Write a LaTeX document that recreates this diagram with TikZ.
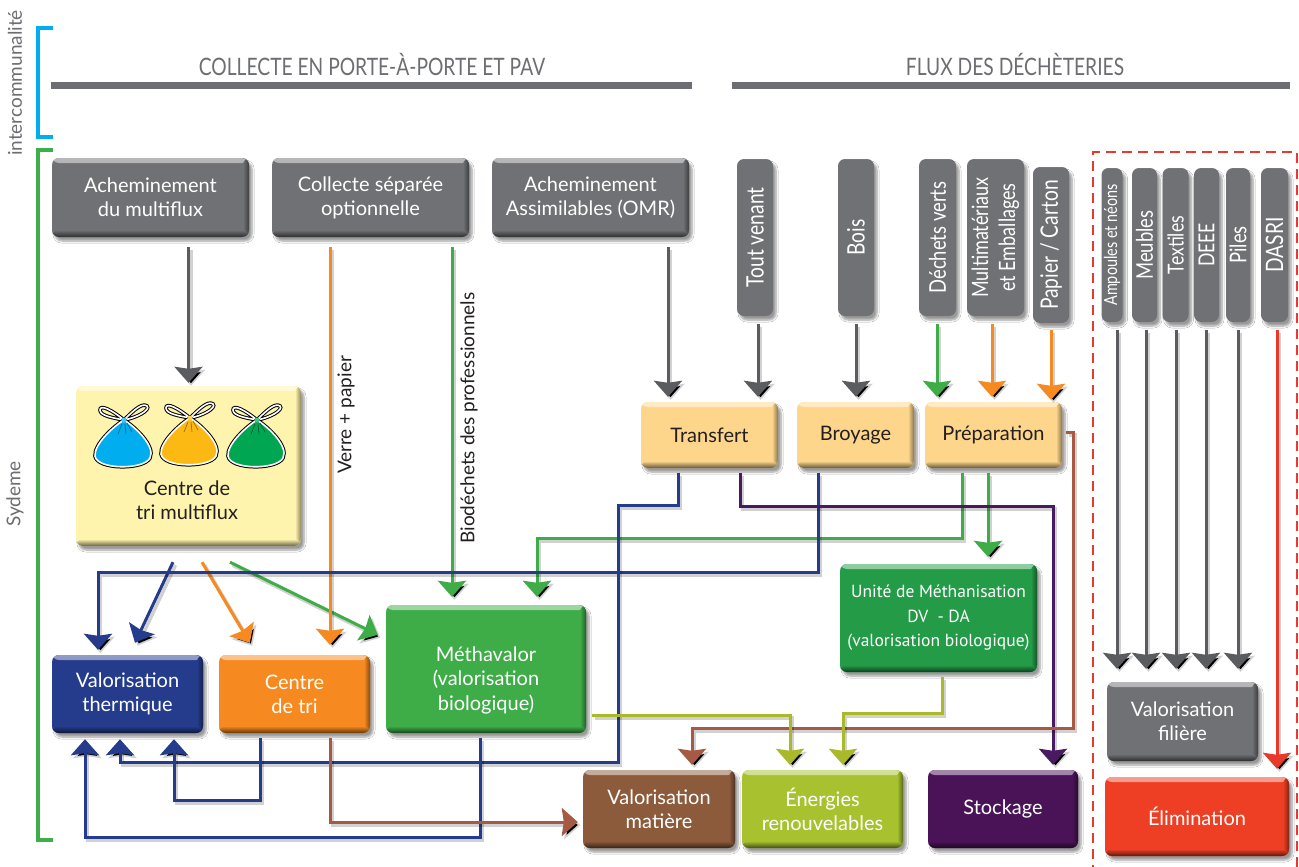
\documentclass[tikz,border=0pt]{standalone}
\usepackage{fontspec}
\setmainfont{Lato}
\newfontfamily\narrowfont{Lato}[FakeStretch=0.8]
\newfontfamily\unitefont{PT Sans}
\usetikzlibrary{arrows.meta,shadows.blur,calc}
\definecolor{gbox}{HTML}{707174}
\definecolor{ybox}{HTML}{FDD68C}
\definecolor{mfbox}{HTML}{FFF4AE}
\definecolor{navy}{HTML}{253B8C}
\definecolor{obox}{HTML}{F6891F}
\definecolor{gnbox}{HTML}{3EAD48}
\definecolor{dgbox}{HTML}{239B47}
\definecolor{brbox}{HTML}{8C5B3B}
\definecolor{olbox}{HTML}{A8C22F}
\definecolor{pubox}{HTML}{4A1358}
\definecolor{rdbox}{HTML}{EE3E23}
\definecolor{cg}{HTML}{5B5C5F}
\definecolor{cgr}{HTML}{3EAD48}
\definecolor{cor}{HTML}{F6891F}
\definecolor{cnv}{HTML}{253B8C}
\definecolor{cpu}{HTML}{4A1A60}
\definecolor{cbr}{HTML}{A65A43}
\definecolor{col}{HTML}{A9B92A}
\definecolor{cre}{HTML}{E8392A}
\definecolor{txtdark}{HTML}{231F20}
\definecolor{hdrgray}{HTML}{6D6E71}
\definecolor{bblue}{HTML}{00AEEF}
\definecolor{bgreen}{HTML}{3DAE49}
\definecolor{bagblue}{HTML}{00AEEF}
\definecolor{bagorange}{HTML}{FDB913}
\definecolor{baggreen}{HTML}{00A651}
\tikzset{
 box/.style={rounded corners=7pt, align=center, inner sep=1pt, text=white,
   font=\fontsize{20}{24}\selectfont,
   blur shadow={shadow xshift=3pt, shadow yshift=-4pt, shadow blur steps=6, shadow opacity=40}},
 cbox/.style={box, fill=#1, path picture={
   \shade[top color=#1!50!white, bottom color=#1] (path picture bounding box.north west) rectangle ([yshift=-5pt]path picture bounding box.north east);
   \shade[left color=#1, right color=#1!55!black] ([xshift=-6pt]path picture bounding box.north east) rectangle (path picture bounding box.south east);
   \shade[top color=#1, bottom color=#1!40!black] ([yshift=7pt]path picture bounding box.south west) rectangle (path picture bounding box.south east);
 }},
 vbox/.style={cbox=#1, rotate=90, font=\narrowfont\fontsize{24}{27}\selectfont},
 sz/.style 2 args={minimum width=#1pt, minimum height=#2pt},
 con/.style={draw=#1, line width=3pt, line join=miter,
   preaction={draw=black, draw opacity=0.18, line width=3.5pt, transform canvas={xshift=2.5pt,yshift=-3pt}}},
 ar/.style={con=#1, -{Stealth[width=28pt,length=16pt,inset=2pt]}},
 hdr/.style={text=hdrgray, font=\narrowfont\fontsize{24}{28}\selectfont, inner sep=0pt},
 side/.style={text=hdrgray, font=\fontsize{19}{23}\selectfont, inner sep=0pt, rotate=90},
 lbl/.style={text=txtdark, font=\fontsize{19}{23}\selectfont, inner sep=0pt, rotate=90},
 hbar/.style={draw=hdrgray, line width=7pt},
 reddash/.style={draw=cre, line width=2.5pt, dash pattern=on 10pt off 6pt},
 pics/bag/.style={code={
   \draw[black, line width=3.6pt] (0,0) .. controls (-10,-2) and (-24,-4) .. (-24,-10) .. controls (-24,-16) and (-12,-10) .. (0,0);
   \draw[white, line width=1.6pt] (0,0) .. controls (-10,-2) and (-24,-4) .. (-24,-10) .. controls (-24,-16) and (-12,-10) .. (0,0);
   \draw[black, line width=3.6pt] (0,0) .. controls (8,-8) and (18,-18) .. (23,-14) .. controls (27,-10) and (12,-2) .. (0,0);
   \draw[white, line width=1.6pt] (0,0) .. controls (8,-8) and (18,-18) .. (23,-14) .. controls (27,-10) and (12,-2) .. (0,0);
   \draw[black, line width=3.6pt] (0,0) .. controls (-10,6) and (-30,24) .. (-29,36) .. controls (-27,50) and (20,50) .. (26,38) .. controls (32,26) and (10,6) .. (0,0) -- cycle;
   \draw[white, line width=1.6pt, fill=#1] (0,0) .. controls (-10,6) and (-30,24) .. (-29,36) .. controls (-27,50) and (20,50) .. (26,38) .. controls (32,26) and (10,6) .. (0,0) -- cycle;
   \draw[#1!55!black, line width=0.6pt] (-2,4) -- (-6,14) (1,4) -- (2,14) (3,3) -- (8,12);
   \fill[#1!70!white] (0,0) circle (2.5pt);
 }},
}
\begin{document}
\begin{tikzpicture}[x=1pt,y=-1pt]
\useasboundingbox (0,0) rectangle (1299,867);
\fill[white] (0,0) rectangle (1299,867);

% side brackets and labels
\draw[draw=bblue, line width=4.5pt] (53,28) -- (38,28) -- (38,137) -- (53,137);
\draw[draw=bgreen, line width=4.5pt] (53,150) -- (38,150) -- (38,840) -- (53,840);
\node[side] (ic) at (15,83) {intercommunalité};
\node[side] (sy) at (15,494) {Sydeme};

% headers
\node[hdr] (h1) at (372,64) {COLLECTE EN PORTE-À-PORTE ET PAV};
\node[hdr] (h2) at (1015,64) {FLUX DES DÉCHÈTERIES};
\draw[hbar] (51,86) -- (692,86);
\draw[hbar] (732,86) -- (1290,86);

% red dashed frame
\draw[reddash] (1093,875) -- (1093,152) -- (1297,152) -- (1297,875);

% top boxes
\node[cbox=gbox, sz={197}{79}] (A1) at (150.5,197.5) {Acheminement\\du multiflux};
\node[cbox=gbox, sz={197}{79}] (A2) at (370.5,197.5) {Collecte séparée\\optionnelle};
\node[cbox=gbox, sz={197}{79}] (A3) at (590.5,197.5) {Acheminement\\Assimilables (OMR)};

% vertical boxes (déchèteries)
\node[vbox=gbox, sz={157}{36}] (TV) at (755,237.5) {Tout venant};
\node[vbox=gbox, sz={157}{36}] (BO) at (856,237.5) {Bois};
\node[vbox=gbox, sz={157}{37}, font=\narrowfont\fontsize{23}{26}\selectfont] (DV) at (937.5,237.5) {Déchets verts};
\node[vbox=gbox, sz={157}{57}, font=\narrowfont\fontsize{22.5}{27}\selectfont] (MM) at (995.5,237.5) {Multimatériaux\\et Emballages};
\node[vbox=gbox, sz={156}{36}] (PC) at (1051,245) {Papier / Carton};

\node[vbox=gbox, sz={154}{21}, font=\narrowfont\fontsize{18}{20}\selectfont] (R1) at (1112,245) {Ampoules et néons};
\node[vbox=gbox, sz={154}{25}, font=\narrowfont\fontsize{23}{25}\selectfont] (R2) at (1144.5,245) {Meubles};
\node[vbox=gbox, sz={154}{26}, font=\narrowfont\fontsize{22}{25}\selectfont] (R3) at (1175.5,245) {Textiles};
\node[vbox=gbox, sz={154}{25}, font=\narrowfont\fontsize{22}{25}\selectfont] (R4) at (1206.5,245) {DEEE};
\node[vbox=gbox, sz={154}{24}, font=\narrowfont\fontsize{23}{25}\selectfont] (R5) at (1238,245) {Piles};
\node[vbox=gbox, sz={154}{27}, font=\narrowfont\fontsize{24}{25}\selectfont] (R6) at (1274.5,245) {DASRI};

% middle boxes
\node[cbox=ybox, sz={137}{66}, text=txtdark] (TR) at (709.5,435) {Transfert};
\node[cbox=ybox, sz={117}{66}, text=txtdark] (BR) at (855.5,435) {Broyage};
\node[cbox=ybox, sz={137}{66}, text=txtdark] (PR) at (993.5,435) {Préparation};

\node[cbox=mfbox, sz={225}{160}] (MF) at (188.5,466) {};
\node[text=txtdark, align=center, font=\fontsize{20}{24}\selectfont, inner sep=0pt] (MFt) at (187,500) {Centre de\\tri multiflux};
\pic at (124,420) {bag=bagblue};
\pic at (190,418) {bag=bagorange};
\pic at (257,420) {bag=baggreen};

\node[cbox=dgbox, sz={197}{108}, font=\unitefont\fontsize{17.5}{24.5}\selectfont] (UN) at (938.5,618) {Unité de Méthanisation\\DV\ \ - DA\\(valorisation biologique)};

% bottom boxes
\node[cbox=navy, sz={151}{78}] (VT) at (127.5,694) {Valorisation\\thermique};
\node[cbox=obox, sz={151}{78}] (CT) at (294.5,694) {Centre\\de tri};
\node[cbox=gnbox, sz={200}{128}] (ME) at (486,669) {};
\node[text=white, align=center, font=\fontsize{20}{24.5}\selectfont, inner sep=0pt] (MEt) at (486,680) {Méthavalor\\(valorisation\\biologique)};
\node[cbox=brbox, sz={152}{78}] (VM) at (659,809) {Valorisation\\matière};
\node[cbox=olbox, sz={161}{78}] (EN) at (822.5,809) {Énergies\\renouvelables};
\node[cbox=pubox, sz={150}{78}] (ST) at (1003,809) {Stockage};
\node[cbox=gbox, sz={151}{79}] (VF) at (1182.5,721.5) {Valorisation\\filière};
\node[cbox=rdbox, sz={184}{79}] (EL) at (1197,816.5) {Élimination};

% rotated labels
\node[lbl] (vp) at (346,415) {Verre + papier};
\node[lbl] (bp) at (469,418) {Biodéchets des professionnels};

% ---- connectors ----
% gray
\draw[ar=cg, shorten >=3pt] ($(A1.south -| MF.north)+(0,10)$) -- (MF.north);
\draw[ar=cg, shorten >=5pt] ($(A3.south)+(77.5,10)$) coordinate (p) -- (p |- TR.north);
\draw[ar=cg, shorten >=5pt] ($(TV.center)+(3,86)$) coordinate (p) -- (p |- TR.north);
\draw[ar=cg, shorten >=5pt] ($(BO.center)+(0,86)$) coordinate (p) -- (p |- BR.north);
\draw[ar=cg, shorten >=13pt] ($(R1.center)+(5,85)$) coordinate (p) -- (p |- VF.north);
\draw[ar=cg, shorten >=13pt] ($(R2.center)+(1.5,85)$) coordinate (p) -- (p |- VF.north);
\draw[ar=cg, shorten >=13pt] ($(R3.center)+(0.5,85)$) coordinate (p) -- (p |- VF.north);
\draw[ar=cg, shorten >=13pt] ($(R4.center)+(-0.5,85)$) coordinate (p) -- (p |- VF.north);
\draw[ar=cg, shorten >=13pt] ($(R5.center)+(0,85)$) coordinate (p) -- (p |- VF.north);
% red
\draw[ar=cre, shorten >=8pt] ($(R6.center)+(2.5,85)$) coordinate (p) -- (p |- EL.north);
% green
\draw[ar=cgr, shorten >=5pt] ($(DV.center)+(-0.5,86)$) coordinate (p) -- (p |- PR.north);
\draw[ar=cgr, shorten >=8pt] ($(A2.south)+(81.5,10)$) coordinate (p) -- (p |- ME.north);
\draw[ar=cgr] ($(PR.south)+(-31.5,5)$) -- ++(0,65) -| ($(ME.north)+(51,-8)$);
\draw[ar=cgr, shorten >=7pt] ($(PR.south)+(-5.5,5)$) coordinate (p) -- (p |- UN.north);
\draw[ar=cgr] ($(MF.south)+(41.5,16)$) -- ($(ME.north west)+(-8,30)$);
% orange
\draw[ar=cor, shorten >=5pt] ($(MM.center)+(-3.5,86)$) coordinate (p) -- (p |- PR.north);
\draw[ar=cor, shorten >=2pt] ($(PC.center)+(0,85)$) coordinate (p) -- (p |- PR.north);
\draw[ar=cor, shorten >=10pt] ($(A2.south)+(-40.5,10)$) coordinate (p) -- (p |- CT.north);
\draw[ar=cor] ($(MF.south)+(13.5,16)$) -- ($(CT.north west)+(31,-12)$);
% navy
\draw[ar=cnv] ($(MF.south)+(-15.5,16)$) -- ($(VT.north)+(7.5,-12)$);
\draw[ar=cnv] ($(BR.south)+(-37.5,5)$) -- ++(0,99) -| ($(VT.north)+(-29.5,-5)$);
\draw[ar=cnv] ($(TR.south)+(-31.5,5)$) -- ++(0,32) -- ++(-60,0) -- ++(0,257) -| ($(VT.south)+(-7.5,6)$);
\draw[ar=cnv] ($(CT.south)+(-34.5,5)$) -- ++(0,62) -| ($(VT.south)+(46.5,6)$);
\draw[ar=cnv] ($(ME.south)+(-6,5)$) -- ++(0,99) -| ($(VT.south)+(-42.5,6)$);
% purple
\draw[ar=cpu] ($(TR.south)+(30.5,5)$) -- ++(0,33) -| ($(ST.north)+(50,-5)$);
% brown
\draw[ar=cbr] ($(PR.east)+(4,-3)$) -- ++(7,0) -- ++(0,296) -| ($(VM.north)+(33,-5)$);
\draw[ar=cbr] ($(CT.south)+(35.5,5)$) |- ($(VM.west)+(-5,13)$);
% olive
\draw[ar=col] ($(ME.east)+(6,46)$) -| ($(EN.north)+(-32.5,-5)$);
\draw[ar=col] ($(UN.south)+(3.5,5)$) -- ++(0,36) -| ($(EN.north)+(20.5,-5)$);
\end{tikzpicture}
\end{document}
